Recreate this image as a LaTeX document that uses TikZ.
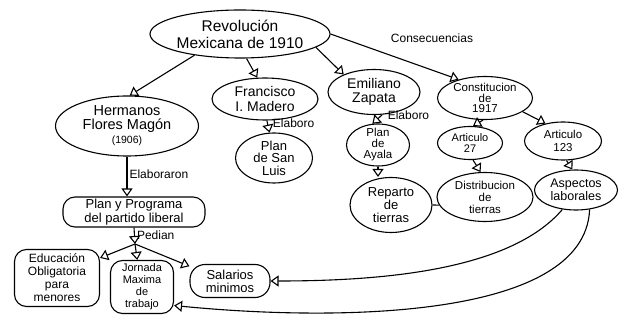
\documentclass[tikz,border=0pt]{standalone}
\usepackage{fontspec}
\setmainfont{Liberation Sans}
\usetikzlibrary{shapes.geometric, arrows.meta}
\tikzset{
    bubble/.style={ellipse, draw, line width=1.1pt, inner sep=0pt, align=center},
    roundbox/.style={rectangle, draw, rounded corners=12pt, line width=1.1pt, inner sep=1pt, align=center},
    arrow/.style={-{Triangle[open, length=8pt, width=11pt]}, line width=1.1pt},
    line/.style={line width=1.1pt},
    linklabel/.style={inner sep=2pt, font=\fontsize{12}{12}\selectfont}
}

\begin{document}
\begin{tikzpicture}[x=1pt, y=1pt]
    \useasboundingbox (0,0) rectangle (620,321);
    % Root (top center)
    \node[bubble, minimum width=180pt, minimum height=48pt, font=\fontsize{15.5}{17}\selectfont] (revolucion) at (240,287) {Revolución\\Mexicana de 1910};
    % First level
    \node[bubble, minimum width=143pt, minimum height=60pt, font=\fontsize{14.5}{14}\selectfont] (hermanos) at (127,195) {Hermanos\\Flores Magón\\{\fontsize{10.5}{10}\selectfont (1906)}};
    \node[bubble, minimum width=106pt, minimum height=42pt, font=\fontsize{14}{14.5}\selectfont] (madero) at (265,222) {Francisco\\I. Madero};
    \node[bubble, minimum width=92pt, minimum height=45pt, font=\fontsize{14}{14.5}\selectfont] (zapata) at (374,229) {Emiliano\\Zapata};
    \node[bubble, inner sep=-1.5pt, minimum width=95pt, minimum height=43pt, font=\fontsize{11.5}{10.5}\selectfont] (constitucion) at (485,223) {Constitucion\\de\\1917};
    % Second level
    \node[bubble, inner sep=-2pt, minimum width=77pt, minimum height=50pt, font=\fontsize{13}{12.5}\selectfont] (sanluis) at (274,163) {Plan\\de San\\Luis};
    \node[bubble, inner sep=-2pt, minimum width=63pt, minimum height=42pt, font=\fontsize{11.5}{11}\selectfont] (ayala) at (378,176) {Plan\\de\\Ayala};
    \node[bubble, minimum width=65pt, minimum height=33pt, font=\fontsize{11}{11.5}\selectfont] (art27) at (470,178) {Articulo\\27};
    \node[bubble, minimum width=77pt, minimum height=38pt, font=\fontsize{11.5}{12.5}\selectfont] (art123) at (563,180) {Articulo\\123};
    \node[roundbox, minimum width=142pt, minimum height=30pt, font=\fontsize{13}{13.5}\selectfont] (plan) at (134,109) {Plan y Programa\\del partido liberal};
    % Third level
    \node[bubble, inner sep=-1pt, minimum width=82pt, minimum height=55pt, font=\fontsize{13}{13}\selectfont] (reparto) at (391,116) {Reparto\\de\\tierras};
    \node[bubble, inner sep=-1pt, minimum width=96pt, minimum height=49pt, font=\fontsize{11.5}{12}\selectfont] (distribucion) at (485,124) {Distribucion\\de\\tierras};
    \node[bubble, minimum width=83pt, minimum height=40pt, font=\fontsize{12.5}{13}\selectfont] (aspectos) at (576,131) {Aspectos\\laborales};
    % Bottom row (demands)
    \node[roundbox, minimum width=85pt, minimum height=57pt, font=\fontsize{12}{13}\selectfont] (educacion) at (57,43) {Educación\\Obligatoria\\para\\menores};
    \node[roundbox, minimum width=63pt, minimum height=53pt, font=\fontsize{11}{12}\selectfont] (jornada) at (142,34) {Jornada\\Maxima\\de\\trabajo};
    \node[roundbox, rounded corners=15pt, minimum width=80pt, minimum height=33pt, font=\fontsize{13}{13}\selectfont] (salarios) at (230,40) {Salarios\\minimos};

    % Connectors
    \draw[arrow] (revolucion.205) -- (hermanos.85);
    \draw[arrow] (revolucion.285) -- (madero.110);
    \draw[arrow] (revolucion.350) -- (zapata.150);
    \draw[arrow] (revolucion.east) -- (constitucion.145);
    \node[linklabel] (consecuencias) at (432,283) {Consecuencias};
    \draw[arrow] (madero.275) -- (sanluis.100) node[linklabel, right, pos=0.2, xshift=3pt] (elaboroA) {Elaboro};
    \draw[arrow] (zapata.290) -- (ayala.105) node[linklabel, right, pos=0.1, xshift=4pt] (elaboroB) {Elaboro};
    \draw[arrow] (hermanos.south) -- (hermanos.south |- plan.north) node[linklabel, right, pos=0.45] (elaboraron) {Elaboraron};
    \coordinate (reparte) at (135,77);
    \draw[arrow] (plan.south) -- (reparte) node[linklabel, right, pos=0.45] (pedian) {Pedian};
    \draw[arrow] (reparte) -- (educacion.25);
    \draw[arrow] (reparte) -- (jornada.100);
    \draw[arrow] (reparte) -- (salarios.160);
    \draw[arrow] (constitucion.265) -- (art27.80);
    \draw[arrow] (constitucion.340) -- (art123.135);
    \draw[arrow] (ayala.south) -- (ayala.south |- reparto.north);
    \draw[arrow] (art27.280) -- (distribucion.100);
    \draw[arrow] (art123.280) -- (aspectos.100);
    \draw[line] (reparto.east) -- (distribucion.190);
    \draw[arrow] (aspectos.235) .. controls (510,50) and (380,40) .. (salarios.east);
    \draw[arrow] (aspectos.305) .. controls (585,0) and (330,0) .. (jornada.-30);
\end{tikzpicture}
\end{document}
